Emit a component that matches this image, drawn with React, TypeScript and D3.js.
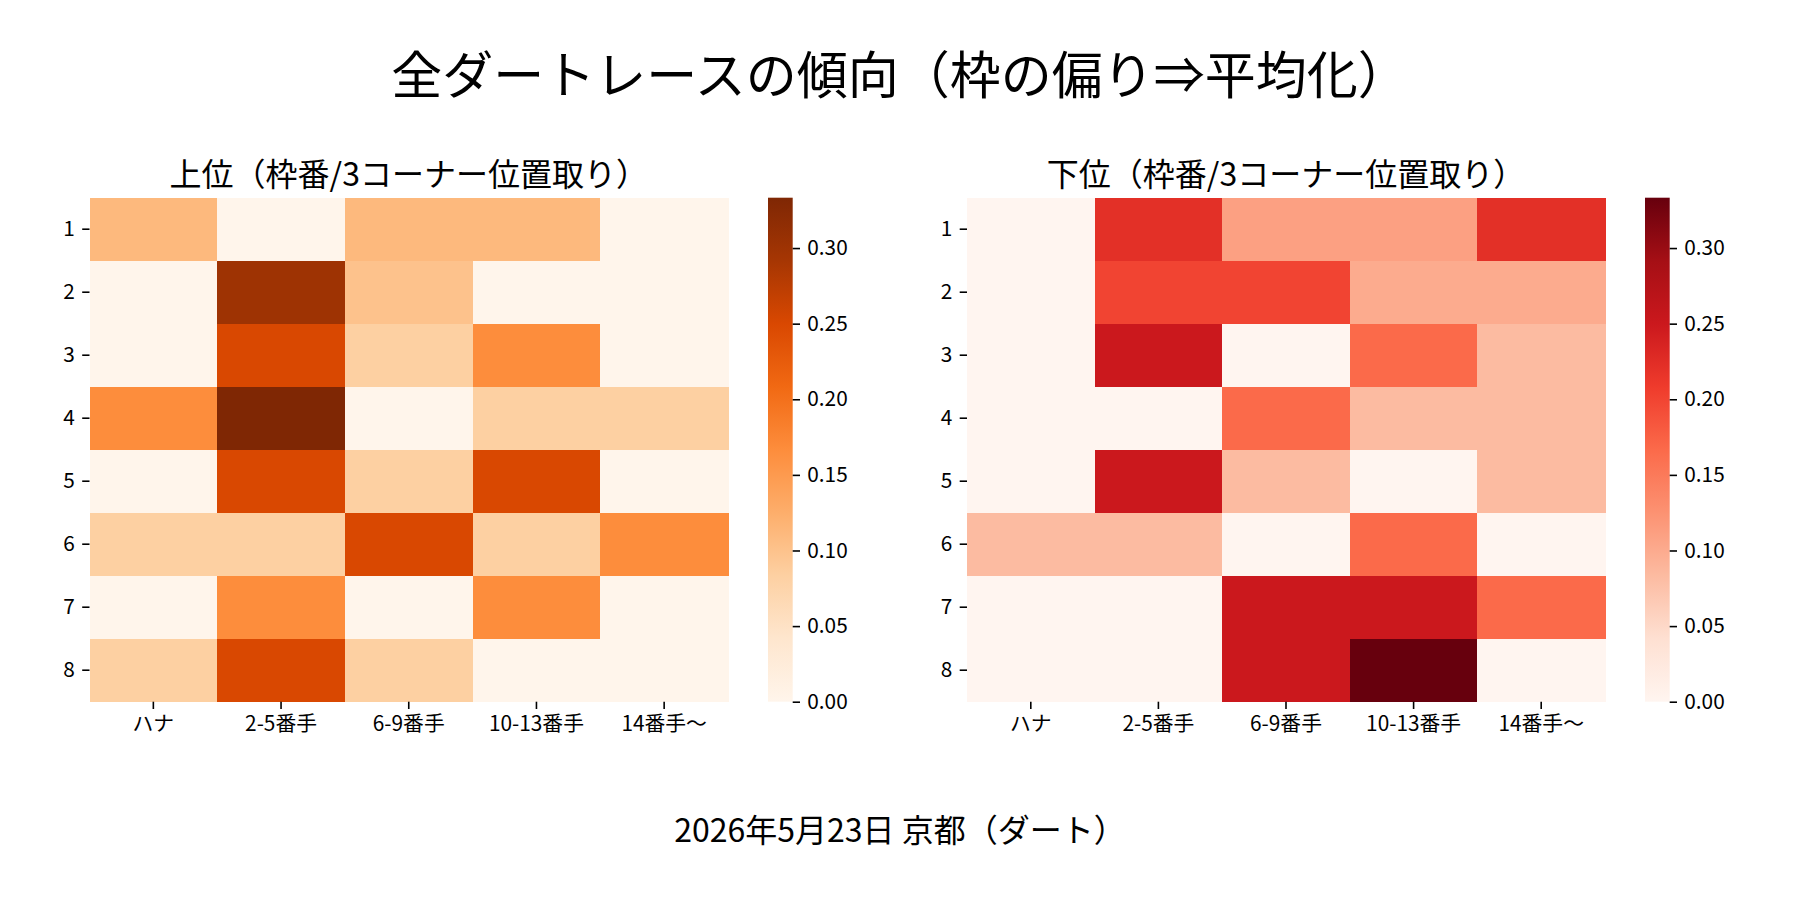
import { useEffect, useRef } from 'react';
import * as d3 from 'd3';

const COLUMNS = ['ハナ', '2-5番手', '6-9番手', '10-13番手', '14番手～'];
const ROWS = ['1', '2', '3', '4', '5', '6', '7', '8'];

// 上位: 枠番ごとの3コーナー位置取り割合
const TOP_VALUES = [
  [0.111, 0, 0.111, 0.111, 0],
  [0, 0.3, 0.1, 0, 0],
  [0, 0.25, 0.0833, 0.1667, 0],
  [0.1667, 0.3333, 0, 0.0833, 0.0833],
  [0, 0.25, 0.0833, 0.25, 0],
  [0.0833, 0.0833, 0.25, 0.0833, 0.1667],
  [0, 0.1667, 0, 0.1667, 0],
  [0.0833, 0.25, 0.0833, 0, 0],
];

// 下位
const BOTTOM_VALUES = [
  [0, 0.222, 0.111, 0.111, 0.222],
  [0, 0.2, 0.2, 0.1, 0.1],
  [0, 0.25, 0, 0.1667, 0.0833],
  [0, 0, 0.1667, 0.0833, 0.0833],
  [0, 0.25, 0.0833, 0, 0.0833],
  [0.0833, 0.0833, 0, 0.1667, 0],
  [0, 0, 0.25, 0.25, 0.1667],
  [0, 0, 0.25, 0.3333, 0],
];

const CBAR_TICKS = [0, 0.05, 0.1, 0.15, 0.2, 0.25, 0.3];

const ORANGES = ['#fff5eb', '#fee6ce', '#fdd0a2', '#fdae6b', '#fd8d3c', '#f16913', '#d94801', '#a63603', '#7f2704'];
const REDS = ['#fff5f0', '#fee0d2', '#fcbba1', '#fc9272', '#fb6a4a', '#ef3b2c', '#cb181d', '#a50f15', '#67000d'];

const FONT = '"Noto Sans CJK JP", "Noto Sans", sans-serif';
const W = 1800;
const H = 900;
const TICK = 7.3;

export default function App() {
  const svgRef = useRef<SVGSVGElement>(null);

  useEffect(() => {
    if (!svgRef.current) return;
    const svg = d3.select(svgRef.current);
    svg.selectAll('*').remove();

    const top = 197.7;
    const bottom = 701.7;
    const defs = svg.append('defs');

    const panels = [
      { values: TOP_VALUES, colors: ORANGES, left: 89.5, right: 728, cbar: 768, title: '上位（枠番/3コーナー位置取り）', id: 'gOr' },
      { values: BOTTOM_VALUES, colors: REDS, left: 967, right: 1605, cbar: 1645, title: '下位（枠番/3コーナー位置取り）', id: 'gRd' },
    ];

    panels.forEach(p => {
      const vmax = d3.max(p.values.flat()) || 1;
      const stops = p.colors.map((_, i) => (i / (p.colors.length - 1)) * vmax);
      const color = d3.scaleLinear<string>().domain(stops).range(p.colors).interpolate(d3.interpolateRgb).clamp(true);

      const x = d3.scaleBand<string>().domain(COLUMNS).range([p.left, p.right]);
      const y = d3.scaleBand<string>().domain(ROWS).range([top, bottom]);

      const g = svg.append('g');

      const cells = p.values.flatMap((row, ri) => row.map((v, ci) => ({ r: ROWS[ri], c: COLUMNS[ci], v })));
      g.append('g')
        .attr('shape-rendering', 'crispEdges')
        .selectAll('rect')
        .data(cells)
        .enter()
        .append('rect')
        .attr('x', d => x(d.c) || 0)
        .attr('y', d => y(d.r) || 0)
        .attr('width', x.bandwidth() + 0.5)
        .attr('height', y.bandwidth() + 0.5)
        .attr('fill', d => color(d.v));

      // axes
      const ax = g.append('g')
        .attr('transform', `translate(0,${bottom})`)
        .call(d3.axisBottom(x).tickSize(TICK).tickPadding(TICK));
      const ay = g.append('g')
        .attr('transform', `translate(${p.left},0)`)
        .call(d3.axisLeft(y).tickSize(TICK).tickPadding(TICK));
      [ax, ay].forEach(a => {
        a.select('.domain').remove();
        a.selectAll('.tick line').attr('stroke', '#000').attr('stroke-width', 1.6);
        a.selectAll('.tick text')
          .attr('fill', '#000')
          .attr('font-size', 20.8)
          .attr('font-family', FONT);
      });

      g.append('text')
        .attr('x', (p.left + p.right) / 2)
        .attr('y', 186)
        .attr('text-anchor', 'middle')
        .attr('font-size', 32)
        .attr('font-family', FONT)
        .attr('fill', '#000')
        .text(p.title);

      // colorbar
      const grad = defs.append('linearGradient')
        .attr('id', p.id)
        .attr('x1', 0).attr('y1', 1).attr('x2', 0).attr('y2', 0);
      p.colors.forEach((c, i) => {
        grad.append('stop')
          .attr('offset', i / (p.colors.length - 1))
          .attr('stop-color', c);
      });
      const cy = d3.scaleLinear().domain([0, vmax]).range([bottom, top]);
      const cbW = 24.7;
      g.append('rect')
        .attr('x', p.cbar)
        .attr('y', cy(vmax))
        .attr('width', cbW)
        .attr('height', cy(0) - cy(vmax))
        .attr('fill', `url(#${p.id})`);
      const ac = g.append('g')
        .attr('transform', `translate(${p.cbar + cbW},0)`)
        .call(d3.axisRight(cy).tickValues(CBAR_TICKS).tickFormat(d3.format('.2f')).tickSize(TICK).tickPadding(TICK));
      ac.select('.domain').remove();
      ac.selectAll('.tick line').attr('stroke', '#000').attr('stroke-width', 1.6);
      ac.selectAll('.tick text')
        .attr('fill', '#000')
        .attr('font-size', 20.8)
        .attr('font-family', FONT);
    });

    svg.append('text')
      .attr('x', W / 2)
      .attr('y', 94)
      .attr('text-anchor', 'middle')
      .attr('font-size', 51)
      .attr('font-family', FONT)
      .attr('fill', '#000')
      .text('全ダートレースの傾向（枠の偏り⇒平均化）');

    svg.append('text')
      .attr('x', W / 2)
      .attr('y', 842)
      .attr('text-anchor', 'middle')
      .attr('font-size', 32)
      .attr('font-family', FONT)
      .attr('fill', '#000')
      .text('2026年5月23日 京都（ダート）');
  }, []);

  return (
    <div style={{ position: 'absolute', left: 0, top: 0, width: W, height: H, background: '#fff' }}>
      <svg ref={svgRef} width={W} height={H} style={{ display: 'block' }} />
    </div>
  );
}
